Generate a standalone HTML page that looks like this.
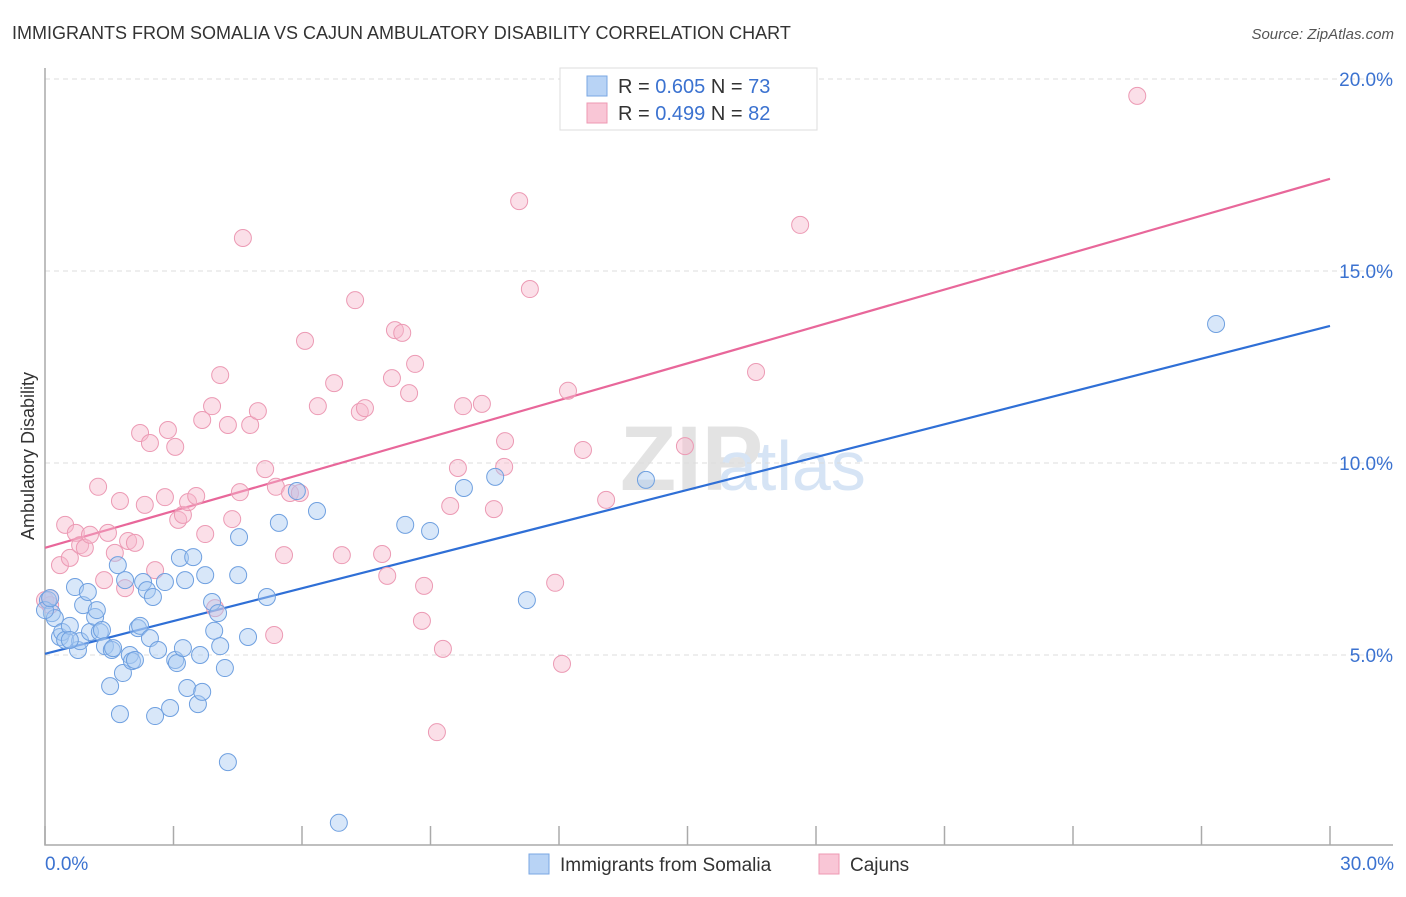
<!DOCTYPE html>
<html><head><meta charset="utf-8"><style>
body{margin:0;background:#fff;font-family:"Liberation Sans",sans-serif;}
svg text{font-family:"Liberation Sans",sans-serif;}
</style></head><body>
<svg width="1406" height="892" xmlns="http://www.w3.org/2000/svg" id="chart">
<text x="12" y="39" font-size="18" fill="#333">IMMIGRANTS FROM SOMALIA VS CAJUN AMBULATORY DISABILITY CORRELATION CHART</text>
<text x="1394" y="39" font-size="15" fill="#555" font-style="italic" text-anchor="end">Source: ZipAtlas.com</text>
<text x="620" y="490" font-size="92" fill="#e3e3e3" font-family="Liberation Serif" font-weight="bold">ZIP</text>
<text x="718" y="490" font-size="70" fill="#d6e4f5">atlas</text>
<g id="grid"></g>
<g id="axes"></g>
<g id="lines"></g>
<g id="pts"></g>
<text transform="translate(34,456) rotate(-90)" font-size="18" fill="#333" text-anchor="middle">Ambulatory Disability</text>
<g>
<rect x="560" y="68" width="257" height="62" fill="#fff" stroke="#ddd"/>
<rect x="587" y="76" width="20" height="20" fill="#b8d3f5" stroke="#7aa7e3"/>
<rect x="587" y="103" width="20" height="20" fill="#f9c6d6" stroke="#ee98b3"/>
<text x="618" y="93" font-size="20" fill="#333">R = <tspan fill="#3b72d0">0.605</tspan>   N = <tspan fill="#3b72d0">73</tspan></text>
<text x="618" y="120" font-size="20" fill="#333">R = <tspan fill="#3b72d0">0.499</tspan>   N = <tspan fill="#3b72d0">82</tspan></text>
</g>
<g>
<rect x="529" y="854" width="20" height="20" fill="#b8d3f5" stroke="#7aa7e3"/>
<text x="560" y="871" font-size="19" fill="#333">Immigrants from Somalia</text>
<rect x="819" y="854" width="20" height="20" fill="#f9c6d6" stroke="#ee98b3"/>
<text x="850" y="871" font-size="19" fill="#333">Cajuns</text>
</g>
</svg>
<script>
const yTicks=[5,10,15,20];
const xTickVals=[0,3,6,9,12,15,18,21,24,27,30];
const xLabels=["0.0%","30.0%"];
const blueX=[0.07,0.16,0.23,0.35,0.40,0.47,0.58,0.70,0.77,0.82,0.89,1.00,1.05,1.17,1.21,1.28,1.33,1.40,1.52,1.56,1.70,1.75,1.82,1.87,1.98,2.03,2.10,2.17,2.22,2.29,2.38,2.45,2.52,2.57,2.64,2.80,2.92,3.04,3.08,3.15,3.22,3.27,3.32,3.46,3.57,3.62,3.67,3.74,3.90,3.95,4.04,4.09,4.20,4.27,4.51,4.53,4.74,5.18,5.46,5.88,6.35,6.86,8.41,8.99,9.78,10.51,11.25,14.03,27.34,0,0.12,1.59,0.58];
const blueY=[6.43,6.09,5.96,5.47,5.60,5.39,5.76,6.77,5.13,5.36,6.30,6.64,5.60,5.99,6.17,5.60,5.65,5.23,4.19,5.13,7.34,3.46,4.53,6.95,5.00,4.84,4.87,5.70,5.76,6.90,6.69,5.44,6.51,3.41,5.13,6.90,3.62,4.87,4.79,7.53,5.18,6.95,4.14,7.55,3.72,5.00,4.04,7.08,6.38,5.63,6.09,5.23,4.66,2.21,7.08,8.07,5.47,6.51,8.44,9.27,8.75,0.63,8.39,8.23,9.35,9.64,6.43,9.56,13.62,6.17,6.48,5.18,5.39];
const pinkX=[0,0.12,0.35,0.47,0.58,0.72,0.82,0.93,1.05,1.24,1.38,1.47,1.63,1.75,1.87,1.94,2.10,2.22,2.33,2.45,2.57,2.80,2.87,3.04,3.11,3.22,3.34,3.53,3.67,3.74,3.90,3.97,4.09,4.27,4.37,4.55,4.62,4.79,4.97,5.14,5.35,5.39,5.58,5.72,5.95,6.07,6.37,6.75,6.93,7.24,7.35,7.47,7.87,7.99,8.10,8.17,8.34,8.50,8.64,8.80,8.85,9.15,9.29,9.46,9.64,9.76,10.20,10.48,10.72,10.74,11.07,11.32,11.91,12.07,12.21,12.56,13.10,14.94,16.60,17.63,25.50,0.12];
const pinkY=[6.43,6.30,7.34,8.39,7.53,8.18,7.86,7.79,8.13,9.38,6.95,8.18,7.66,9.01,6.74,7.97,7.92,10.78,8.91,10.52,7.21,9.11,10.86,10.42,8.52,8.65,8.98,9.14,11.12,8.15,11.48,6.22,12.29,10.99,8.54,9.24,15.86,10.99,11.35,9.84,5.52,9.38,7.60,9.22,9.22,13.18,11.48,12.08,7.60,14.24,11.33,11.43,7.63,7.06,12.21,13.46,13.39,11.82,12.58,5.89,6.80,2.99,5.16,8.88,9.87,11.48,11.54,8.80,9.90,10.57,16.82,14.53,6.88,4.77,11.88,10.34,9.04,10.44,12.37,16.20,19.56,6.48];
const trendStart=[5.03,7.79];
const trendEnd=[13.57,17.40];
const X=v=>45+v*1285/30, Y=v=>847-v*38.4;
const NS="http://www.w3.org/2000/svg";
function mk(parent,tag,attrs){const e=document.createElementNS(NS,tag);for(const k in attrs)e.setAttribute(k,attrs[k]);document.getElementById(parent).appendChild(e);return e;}
yTicks.forEach(t=>{
 const l=mk('grid','line',{x1:45,x2:1393,y1:Y(t),y2:Y(t),stroke:'#dcdcdc','stroke-dasharray':'5,4'});
 
 
 const tx=mk('grid','text',{x:1393,y:Y(t)+7,'font-size':19,fill:'#3b72d0','text-anchor':'end'});
 tx.textContent=t.toFixed(1)+'%';
 
 
});
const ax=mk('axes','path',{d:'M45 68 V845 H1393',fill:'none',stroke:'#aaa','stroke-width':1.5});


xTickVals.forEach(t=>{
 const l=mk('axes','line',{x1:X(t),x2:X(t),y1:826,y2:845,stroke:'#aaa','stroke-width':1.5});
 
 
});
[[0,'start',45],[1,'end',1394]].forEach(([i,a,x])=>{
 const tx=mk('axes','text',{x:x,y:870,'font-size':19,fill:'#3b72d0','text-anchor':a});
 tx.textContent=xLabels[i];
 
 
});
function pts(xs,ys,fill,stroke,name){
 xs.forEach((x,i)=>{
  const c=mk('pts','circle',{cx:X(x),cy:Y(ys[i]),r:8.5,fill:fill,'fill-opacity':0.45,stroke:stroke,'stroke-width':1});
  
  
 });
}
pts(pinkX,pinkY,'#f7b8cc','#ec9ab4','cajun-point');
pts(blueX,blueY,'#a9c9f2','#6fa0e0','somalia-point');
const cols=['#2f6fd6','#e8679a'];const names=['somalia-trend-line','cajun-trend-line'];
[0,1].forEach(i=>{
 const l=mk('lines','line',{x1:X(0),y1:Y(trendStart[i]),x2:X(30),y2:Y(trendEnd[i]),stroke:cols[i],'stroke-width':2.2});
 
 
});
</script>
</body></html>
